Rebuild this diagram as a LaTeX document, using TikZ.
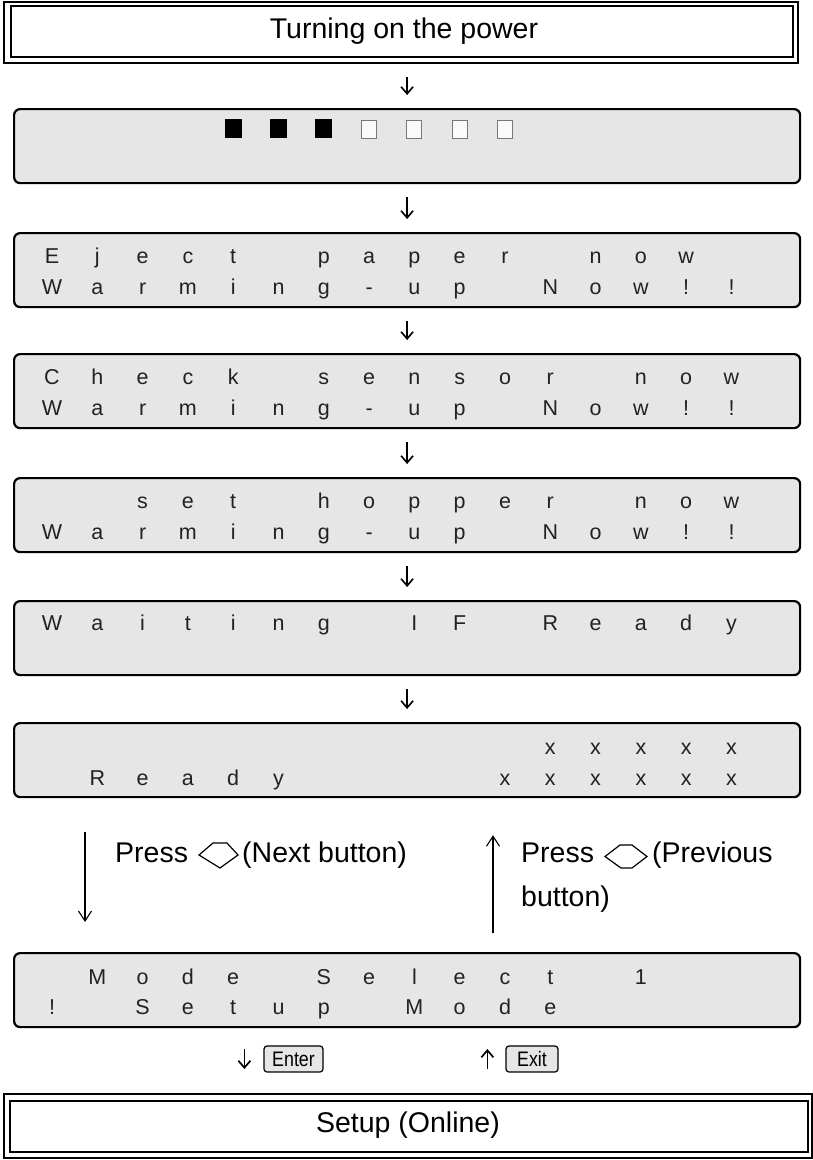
\documentclass[tikz,border=0pt]{standalone}
\usepackage{fontspec}
\setmainfont{Liberation Sans}
\usetikzlibrary{arrows.meta,calc}
\definecolor{lcdgray}{HTML}{E6E6E6}
\definecolor{lcdtext}{HTML}{222222}
\definecolor{sqgray}{HTML}{777777}
\tikzset{
  lcd/.style={draw=black, line width=2.2pt, rounded corners=6pt, fill=lcdgray,
    minimum width=786pt, minimum height=74pt, inner sep=0pt, anchor=north west},
  frame/.style={draw=black, line width=2pt, inner sep=0pt, anchor=north west},
  innerframe/.style={draw=black, line width=2.5pt},
  bigtxt/.style={font=\fontsize{28.5}{34}\selectfont, inner sep=0pt},
  lcdch/.style={font=\fontsize{21.5}{26}\selectfont, text=lcdtext, anchor=base, inner sep=0pt},
  flow/.style={line width=1.6pt, -{Straight Barb[length=7pt,width=12pt]},
    shorten <=13pt, shorten >=13pt},
  side/.style={line width=1.1pt, -{Straight Barb[length=10pt,width=13pt]}},
  keybox/.style={draw=black, line width=1.2pt, rounded corners=3pt, fill=lcdgray,
    minimum height=26pt, inner sep=0pt, font=\fontsize{21}{24}\selectfont},
  keyarr/.style={line width=1.7pt, -{Straight Barb[length=7pt,width=12pt]}},
  btnshape/.style={line width=1.2pt, line join=miter},
  fullsq/.style={fill=black, minimum width=17pt, minimum height=19pt, inner sep=0pt},
  emptysq/.style={draw=sqgray, fill=white!80!lcdgray, line width=1pt, minimum width=15pt, minimum height=18pt, inner sep=0pt},
}
\newcommand\lcdline[3]{%
  \foreach \ch [count=\i from 0] in {#3} {%
    \ifx\ch\empty\else
      \node[lcdch] (#1c\i) at ({52+45.3*\i}, #2) {\ch};
    \fi
  }%
}
\begin{document}
\begin{tikzpicture}[x=1pt,y=-1pt]
\useasboundingbox (0,0) rectangle (813,1160);

% top title box
\node[frame, minimum width=794pt, minimum height=61pt] (top) at (3,1) {};
\draw[innerframe] ($(top.north west)+(8,5)$) rectangle ($(top.south east)+(-6,-7)$);
\node[bigtxt, anchor=base] (toptxt) at (404,38.5) {Turning on the power};

% LCD boxes
\node[lcd] (lcd1) at (13,108) {};
\node[lcd] (lcd2) at (13,232) {};
\node[lcd] (lcd3) at (13,353) {};
\node[lcd] (lcd4) at (13,477) {};
\node[lcd] (lcd5) at (13,600) {};
\node[lcd] (lcd6) at (13,722) {};
\node[lcd] (lcd7) at (13,952) {};

% LCD1 squares
\foreach \k in {4,5,6} {\node[fullsq] (sq\k) at ({52+45.3*\k},128.5) {};}
\foreach \k in {7,8,9,10} {\node[emptysq] (sq\k) at ({52+45.3*\k},129) {};}

% LCD2
\lcdline{ejA}{263.5}{E,j,e,c,t,{},p,a,p,e,r,{},n,o,w}
\lcdline{ejB}{294.5}{W,a,r,m,i,n,g,-,u,p,{},N,o,w,!,!}
% LCD3
\lcdline{ckA}{384.5}{C,h,e,c,k,{},s,e,n,s,o,r,{},n,o,w}
\lcdline{ckB}{415.5}{W,a,r,m,i,n,g,-,u,p,{},N,o,w,!,!}
% LCD4
\lcdline{shA}{508.5}{{},{},s,e,t,{},h,o,p,p,e,r,{},n,o,w}
\lcdline{shB}{539.5}{W,a,r,m,i,n,g,-,u,p,{},N,o,w,!,!}
% LCD5
\lcdline{wtA}{630.5}{W,a,i,t,i,n,g,{},I,F,{},R,e,a,d,y}
% LCD6
\lcdline{rdA}{754}{{},{},{},{},{},{},{},{},{},{},{},x,x,x,x,x}
\lcdline{rdB}{785}{{},R,e,a,d,y,{},{},{},{},x,x,x,x,x,x}
% LCD7
\lcdline{msA}{984}{{},M,o,d,e,{},S,e,l,e,c,t,{},1}
\lcdline{msB}{1014}{!,{},S,e,t,u,p,{},M,o,d,e}

% flow arrows
\draw[flow] (lcd1.north |- top.south) -- (lcd1.north);
\draw[flow] (lcd1.south) -- (lcd2.north);
\draw[flow] (lcd2.south) -- (lcd3.north);
\draw[flow] (lcd3.south) -- (lcd4.north);
\draw[flow] (lcd4.south) -- (lcd5.north);
\draw[flow] (lcd5.south) -- (lcd6.north);

% next / previous arrows
\draw[side, shorten <=34pt, shorten >=30pt] ($(lcd6.south west)+(72,0)$) -- ($(lcd7.north west)+(72,0)$);
\draw[side, shorten <=19pt, shorten >=37pt] ($(lcd7.north west)+(480,0)$) -- ($(lcd6.south west)+(480,0)$);

\node[bigtxt, anchor=base west] (pressL) at (115,862) {Press};
\draw[btnshape] (199,855) -- (213,843) -- (227,843) -- (238,855) -- (220,868) -- cycle;
\node[bigtxt, anchor=base west] (nextL) at (242,862) {(Next button)};

\node[bigtxt, anchor=base west] (pressR) at (521,862) {Press};
\draw[btnshape] (605,856.5) -- (620,845) -- (632,845) -- (647,856.5) -- (632,868) -- (621,868) -- cycle;
\node[bigtxt, anchor=base west] (prevR) at (652,862) {(Previous};
\node[bigtxt, anchor=base west] (btnR) at (521,906) {button)};

% Enter / Exit keys
\node[keybox, minimum width=59pt] (enter) at (293.5,1059) {\scalebox{0.85}[1]{Enter}};
\node[keybox, minimum width=52pt] (exit) at (532,1059) {\scalebox{0.85}[1]{Exit}};
\draw[keyarr] ($(enter.west)+(-19,-10)$) -- ($(enter.west)+(-19,10)$);
\draw[keyarr] ($(exit.west)+(-18,10)$) -- ($(exit.west)+(-18,-10)$);

% bottom box
\node[frame, minimum width=808pt, minimum height=64pt] (bot) at (3,1093) {};
\draw[innerframe] ($(bot.north west)+(7,8)$) rectangle ($(bot.south east)+(-5,-7)$);
\node[bigtxt, anchor=base] (bottxt) at (408,1132) {Setup (Online)};
\end{tikzpicture}
\end{document}
